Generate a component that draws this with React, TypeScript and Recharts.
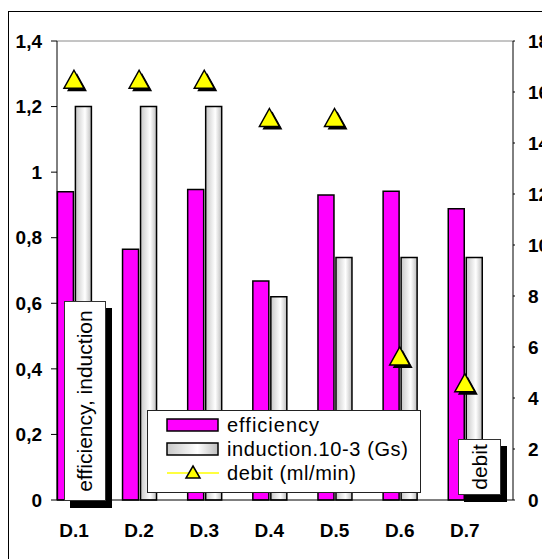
import { Bar, ComposedChart, Legend, Line, ReferenceLine, XAxis, YAxis } from "recharts";

const categories = ["D.1", "D.2", "D.3", "D.4", "D.5", "D.6", "D.7"];
const efficiency = [0.94, 0.765, 0.947, 0.668, 0.93, 0.942, 0.888];
const induction = [1.2, 1.2, 1.2, 0.62, 0.74, 0.74, 0.74];
const debit = [16.5, 16.5, 16.5, 15, 15, 5.65, 4.6];

const leftTicks = [0, 0.2, 0.4, 0.6, 0.8, 1, 1.2, 1.4];
const rightTicks = [0, 2, 4, 6, 8, 10, 12, 14, 16, 18];
const slotTicks = [0, 1, 2, 3, 4, 5, 6, 7];

const data = categories.map((name, i) => ({
  name,
  efficiency: efficiency[i],
  induction: induction[i],
  debit: debit[i],
}));

const FONT = "'Liberation Sans', Arial, sans-serif";
const tickStyle = { fill: "#000", fontSize: 19, fontWeight: 700, fontFamily: FONT };

function Triangle(props: any) {
  const { cx, cy } = props;
  if (cx == null || cy == null) return null;
  const pts = (dx: number, dy: number) =>
    `${cx + dx},${cy - 9 + dy} ${cx + 10 + dx},${cy + 9 + dy} ${cx - 10 + dx},${cy + 9 + dy}`;
  return (
    <g>
      <polygon points={pts(3, 3)} fill="#000" />
      <polygon points={pts(0, 0)} fill="#ffff00" stroke="#000" strokeWidth={1.5} />
    </g>
  );
}

function LegendBox() {
  const row = { display: "flex", alignItems: "center", height: 24 };
  return (
    <div
      style={{
        width: 274,
        height: 83,
        boxSizing: "border-box",
        border: "1px solid #222",
        background: "#fff",
        paddingTop: 2,
        fontFamily: FONT,
        fontSize: 20,
        color: "#000",
      }}
    >
      <div style={row}>
        <svg width={79} height={24}>
          <rect x={19} y={6} width={51} height={12} fill="#ff00ff" stroke="#000" strokeWidth={1.5} />
        </svg>
        <span style={{ letterSpacing: 1 }}>efficiency</span>
      </div>
      <div style={row}>
        <svg width={79} height={24}>
          <defs>
            <linearGradient id="legGrey" x1="0" y1="0" x2="1" y2="0">
              <stop offset="0%" stopColor="#c8c8c8" />
              <stop offset="60%" stopColor="#ffffff" />
              <stop offset="100%" stopColor="#bdbdbd" />
            </linearGradient>
          </defs>
          <rect x={19} y={6} width={51} height={12} fill="url(#legGrey)" stroke="#000" strokeWidth={1.5} />
        </svg>
        <span style={{ letterSpacing: 0.6 }}>induction.10-3 (Gs)</span>
      </div>
      <div style={row}>
        <svg width={79} height={24}>
          <line x1={19} y1={12} x2={71} y2={12} stroke="#ffff00" strokeWidth={1.5} />
          <polygon points="45,5 52,17 38,17" fill="#ffff00" stroke="#000" strokeWidth={1.5} />
        </svg>
        <span style={{ letterSpacing: 0.6 }}>debit (ml/min)</span>
      </div>
    </div>
  );
}

const boxStyle = {
  position: "absolute" as const,
  boxSizing: "border-box" as const,
  background: "#fff",
  border: "1px solid #333",
  boxShadow: "6px 7px 0 #000",
};

const rotated = {
  position: "absolute" as const,
  left: "50%",
  top: "50%",
  transform: "translate(-50%, -50%) rotate(-90deg)",
  whiteSpace: "nowrap" as const,
  fontFamily: FONT,
  fontSize: 21,
  color: "#000",
};

export default function App() {
  return (
    <div style={{ position: "relative", width: 542, height: 551, fontFamily: FONT }}>
      <div
        style={{
          position: "absolute",
          left: 0,
          top: 3,
          width: 542,
          height: 548,
          borderTop: "1px solid #000",
          borderLeft: "1px solid #000",
        }}
      />
      <ComposedChart
        width={542}
        height={551}
        data={data}
        margin={{ top: 33, right: 0, bottom: 29, left: 0 }}
        barSize={16}
        barGap={2}
      >
        <defs>
          <linearGradient id="greyBar" x1="0" y1="0" x2="1" y2="0">
            <stop offset="0%" stopColor="#c8c8c8" />
            <stop offset="60%" stopColor="#ffffff" />
            <stop offset="100%" stopColor="#bdbdbd" />
          </linearGradient>
        </defs>
        <XAxis
          xAxisId="frame"
          type="number"
          domain={[0, 7]}
          ticks={slotTicks}
          allowDataOverflow
          tick={false}
          axisLine={false}
          tickLine={{ stroke: "#000" }}
          tickSize={5}
          height={1}
        />
        <XAxis
          dataKey="name"
          padding={{ left: -15.6, right: 15.6 }}
          tick={tickStyle}
          tickLine={false}
          tickSize={0}
          tickMargin={24}
          axisLine={{ stroke: "#000" }}
          height={29}
          interval={0}
        />
        <YAxis
          yAxisId="left"
          domain={[0, 1.4]}
          ticks={leftTicks}
          width={49}
          tick={tickStyle}
          tickSize={6}
          tickMargin={9}
          tickLine={{ stroke: "#000" }}
          axisLine={{ stroke: "#000" }}
          tickFormatter={(v: number) => String(v).replace(".", ",")}
        />
        <YAxis
          yAxisId="leftIn"
          domain={[0, 1.4]}
          ticks={leftTicks}
          mirror
          width={0}
          tick={false}
          tickSize={6}
          tickLine={{ stroke: "#000" }}
          axisLine={false}
        />
        <YAxis
          yAxisId="right"
          orientation="right"
          domain={[0, 18]}
          ticks={rightTicks}
          width={37}
          tick={{ ...tickStyle, textAnchor: "start" }}
          tickSize={2}
          tickMargin={13}
          tickLine={{ stroke: "#000" }}
          axisLine={{ stroke: "#000" }}
        />
        <YAxis
          yAxisId="rightIn"
          orientation="right"
          domain={[0, 18]}
          ticks={rightTicks}
          mirror
          width={0}
          tick={false}
          tickSize={6}
          tickLine={{ stroke: "#000" }}
          axisLine={false}
        />
        <ReferenceLine yAxisId="left" y={1.4} stroke="#8a8a8a" />
        <Bar
          yAxisId="left"
          dataKey="efficiency"
          fill="#ff00ff"
          stroke="#000"
          strokeWidth={1.5}
          isAnimationActive={false}
        />
        <Bar
          yAxisId="left"
          dataKey="induction"
          fill="url(#greyBar)"
          stroke="#000"
          strokeWidth={1.5}
          isAnimationActive={false}
        />
        <Line
          yAxisId="right"
          dataKey="debit"
          stroke="none"
          dot={(p: any) => <Triangle key={p.index} {...p} />}
          activeDot={false}
          isAnimationActive={false}
        />
        <Legend
          layout="vertical"
          align="center"
          verticalAlign="middle"
          content={() => <LegendBox />}
          wrapperStyle={{ left: 139, top: 402, width: 274, height: 83 }}
        />
      </ComposedChart>
      <div style={{ ...boxStyle, left: 56, top: 293, width: 42, height: 200 }}>
        <div style={rotated}>efficiency, induction</div>
      </div>
      <div style={{ ...boxStyle, left: 450, top: 431, width: 43, height: 56 }}>
        <div style={rotated}>debit</div>
      </div>
    </div>
  );
}
